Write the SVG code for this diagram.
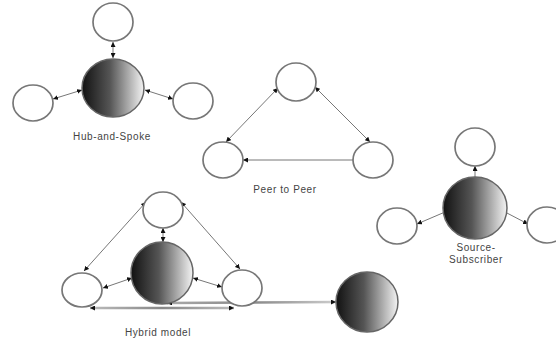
<svg xmlns="http://www.w3.org/2000/svg" width="556" height="341" viewBox="0 0 556 341">
<style>
.sm{fill:#fff;stroke:#777;stroke-width:1.7}
.big{fill:url(#g);stroke:#666;stroke-width:1.5}
.ln{stroke:#777;stroke-width:1;fill:none;marker-end:url(#a)}
.dl{stroke:#777;stroke-width:1;fill:none;marker-start:url(#a);marker-end:url(#a)}
.gl{stroke-width:2.5;fill:none;marker-start:url(#a);marker-end:url(#a)}
text{font-family:"Liberation Sans",Arial,sans-serif;font-size:10px;letter-spacing:0.6px;fill:#444;text-anchor:middle}
</style>
<defs>
<linearGradient id="g" x1="0" y1="0" x2="1" y2="0">
<stop offset="0" stop-color="#111"/>
<stop offset="0.45" stop-color="#555"/>
<stop offset="1" stop-color="#f4f4f4"/>
</linearGradient>
<linearGradient id="lg1" gradientUnits="userSpaceOnUse" x1="90" y1="0" x2="234" y2="0">
<stop offset="0" stop-color="#bbb"/>
<stop offset="0.5" stop-color="#888"/>
<stop offset="1" stop-color="#bbb"/>
</linearGradient>
<linearGradient id="lg2" gradientUnits="userSpaceOnUse" x1="167" y1="0" x2="336" y2="0">
<stop offset="0" stop-color="#aaa"/>
<stop offset="0.5" stop-color="#888"/>
<stop offset="1" stop-color="#ccc"/>
</linearGradient>
<marker id="a" viewBox="0 0 10 10" refX="10" refY="5" markerWidth="5" markerHeight="5" orient="auto-start-reverse" markerUnits="userSpaceOnUse">
<path d="M0,0L10,5L0,10z" fill="#111"/>
</marker>
</defs>
<g id="connectors">
<line class="dl" x1="113" y1="42" x2="113" y2="58"/>
<line class="dl" x1="53" y1="99" x2="82" y2="90"/>
<line class="dl" x1="145" y1="90" x2="173" y2="99"/>
<line class="dl" x1="278" y1="88" x2="226" y2="142"/>
<line class="dl" x1="315" y1="87" x2="370" y2="142"/>
<line class="ln" x1="353" y1="160" x2="243" y2="160"/>
<line class="ln" x1="475" y1="177" x2="475" y2="166"/>
<line class="ln" x1="445" y1="212" x2="417" y2="224"/>
<line class="ln" x1="505" y1="212" x2="528" y2="224"/>
<line class="dl" x1="146" y1="202" x2="84" y2="271"/>
<line class="dl" x1="181" y1="202" x2="240" y2="269"/>
<line class="dl" x1="163" y1="228" x2="163" y2="242"/>
<line class="dl" x1="132" y1="278" x2="103" y2="288"/>
<line class="dl" x1="193" y1="278" x2="222" y2="287"/>
<line class="gl" stroke="url(#lg1)" x1="90" y1="308" x2="234" y2="308"/>
<line class="gl" stroke="url(#lg2)" x1="167" y1="303" x2="336" y2="302"/>
</g>
<g id="hub-top"><ellipse class="sm" cx="113" cy="22" rx="20" ry="19"/></g>
<g id="hub-center"><ellipse class="big" cx="113" cy="88" rx="31" ry="29"/></g>
<g id="hub-left"><ellipse class="sm" cx="33" cy="103" rx="20" ry="18"/></g>
<g id="hub-right"><ellipse class="sm" cx="193" cy="101" rx="20" ry="18"/></g>
<g id="hub-label"><text x="112" y="140">Hub-and-Spoke</text></g>
<g id="p2p-top"><ellipse class="sm" cx="296" cy="82" rx="20" ry="19"/></g>
<g id="p2p-left"><ellipse class="sm" cx="223" cy="160" rx="20" ry="18"/></g>
<g id="p2p-right"><ellipse class="sm" cx="373" cy="160" rx="20" ry="18"/></g>
<g id="p2p-label"><text x="285" y="193">Peer to Peer</text></g>
<g id="ss-top"><ellipse class="sm" cx="475" cy="147" rx="20" ry="19"/></g>
<g id="ss-center"><ellipse class="big" cx="475" cy="208" rx="32" ry="31"/></g>
<g id="ss-left"><ellipse class="sm" cx="397" cy="226" rx="20" ry="18"/></g>
<g id="ss-right"><ellipse class="sm" cx="547" cy="225" rx="20" ry="18"/></g>
<g id="ss-label"><text x="476" y="251">Source-</text><text x="476" y="263">Subscriber</text></g>
<g id="hy-top"><ellipse class="sm" cx="163" cy="210" rx="20" ry="18"/></g>
<g id="hy-center"><ellipse class="big" cx="162" cy="273" rx="31" ry="31"/></g>
<g id="hy-left"><ellipse class="sm" cx="82" cy="290" rx="20" ry="17"/></g>
<g id="hy-right"><ellipse class="sm" cx="242" cy="288" rx="20" ry="18"/></g>
<g id="hy-far"><ellipse class="big" cx="367" cy="302" rx="31" ry="30"/></g>
<g id="hy-label"><text x="158" y="336">Hybrid model</text></g>
</svg>
